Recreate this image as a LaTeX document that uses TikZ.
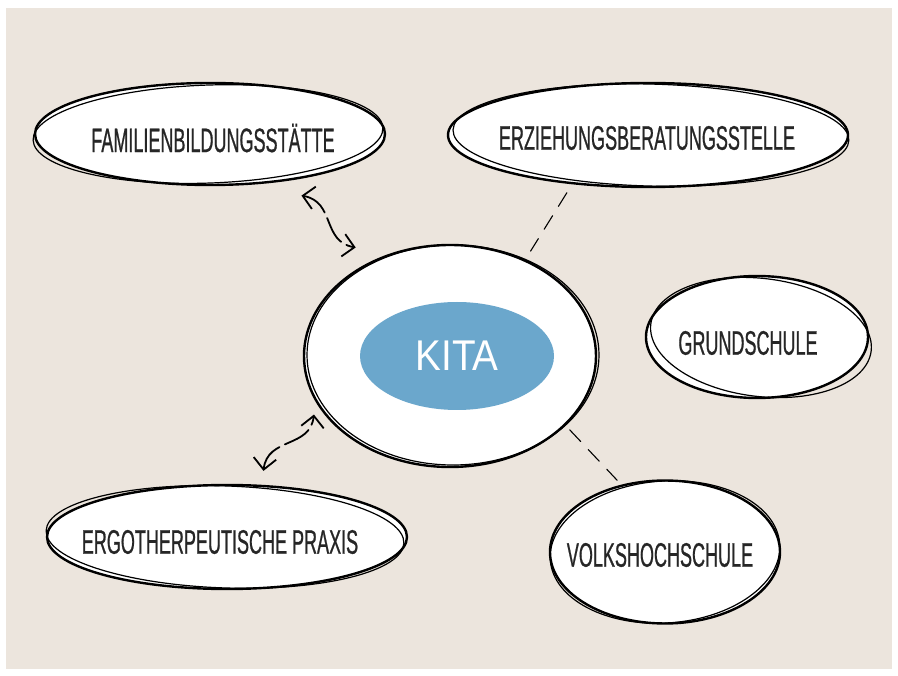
\documentclass[tikz,border=0pt]{standalone}
\usepackage{fontspec}
\usetikzlibrary{shapes.geometric,arrows.meta}
\newfontfamily\handfont[FakeStretch=0.53, FakeBold=0.6]{Liberation Sans}
\newfontfamily\kitafont[FakeStretch=0.9]{Liberation Sans}
\definecolor{paper}{RGB}{236,229,221}
\definecolor{kitablue}{RGB}{107,167,204}

\begin{document}
\begin{tikzpicture}[x=1pt, y=-1pt]
        \tikzstyle{bubble}=[ellipse, draw=black, fill=white, line width=2.4pt, inner sep=0pt]
        \tikzstyle{txt}=[font=\handfont\fontsize{34}{34}\selectfont, text=black!85, inner sep=0pt]
        \tikzstyle{sketch}=[line width=1.2pt]
        \tikzstyle{link}=[line width=1.8pt, line cap=round, dash pattern=on 28pt off 6pt, >={Straight Barb[angle=90:16pt]}, <->]
        \tikzstyle{loose}=[line width=1.1pt, line cap=round, dash pattern=on 16pt off 11pt]
        \useasboundingbox (0,0) rectangle (898,676);
        \fill[paper] (6,8) rectangle (892,669);

        % bubbles
        \node [bubble, minimum width=350pt, minimum height=102pt] (fbs) at (210,134) {};
        \draw [sketch, rotate around={2:(fbs.center)}] ([xshift=-2pt]fbs.center) ellipse (175 and 49);
        \node [txt] (fbs-t) at (213,138) {FAMILIENBILDUNGSSTÄTTE};

        \node [bubble, minimum width=400pt, minimum height=104pt] (ezb) at (648,135) {};
        \draw [sketch, rotate around={-1.5:(ezb.center)}] ([xshift=3pt]ezb.center) ellipse (198 and 51);
        \node [txt] (ezb-t) at (647,138) {ERZIEHUNGSBERATUNGSSTELLE};

        \node [bubble, minimum width=292pt, minimum height=222pt] (kita) at (450,356) {};
        \draw [sketch] ([shift={(3pt,1pt)}]kita.center) ellipse (146 and 110);
        \node [ellipse, fill=kitablue, minimum width=194pt, minimum height=108pt, inner sep=0pt,
               text=white, font=\kitafont\fontsize{43}{43}\selectfont] (kita-in) at (457,356) {KITA};

        \node [bubble, minimum width=222pt, minimum height=122pt] (gs) at (757,337) {};
        \draw [sketch, rotate around={-7:(gs.center)}] ([xshift=4pt]gs.center) ellipse (111 and 59);
        \node [txt] (gs-t) at (748,343) {GRUNDSCHULE};

        \node [bubble, minimum width=230pt, minimum height=143pt] (vhs) at (665,552) {};
        \draw [sketch, rotate around={4:(vhs.center)}] (vhs.center) ellipse (115 and 71);
        \node [txt] (vhs-t) at (660,555) {VOLKSHOCHSCHULE};

        \node [bubble, minimum width=360pt, minimum height=104pt] (ergo) at (227,537) {};
        \draw [sketch, rotate around={-2:(ergo.center)}] ([xshift=-2pt]ergo.center) ellipse (179 and 51);
        \node [txt] (ergo-t) at (220,542) {ERGOTHERPEUTISCHE PRAXIS};

        % connectors
        \draw [link] ([yshift=-17pt]fbs.-26) .. controls +(34,6) and +(-34,-6) .. ([shift={(-15pt,14pt)}]kita.130);
        \draw [link] ([yshift=14pt]ergo.55) .. controls +(4,-34) and +(-4,34) .. ([shift={(-6pt,-6pt)}]kita.202);
        \draw [loose, shorten <=10pt, shorten >=10pt] (ezb.213) -- (kita.52);
        \draw [loose, shorten <=6pt, shorten >=6pt] (kita.-31) -- (vhs.123);
\end{tikzpicture}
\end{document}
